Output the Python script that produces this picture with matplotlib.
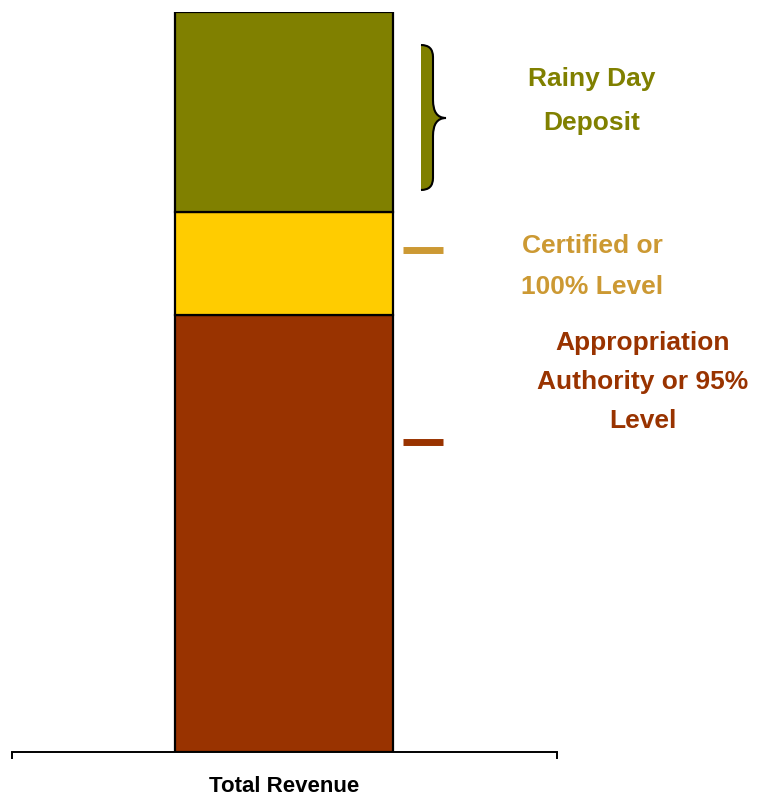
import matplotlib
matplotlib.use("Agg")
import matplotlib.pyplot as plt
from matplotlib.path import Path
from matplotlib.patches import PathPatch
from matplotlib.transforms import blended_transform_factory

plt.rcParams['font.family'] = ['Liberation Sans', 'DejaVu Sans']

# Revenue composition (share of total revenue, %)
category = "Total Revenue"
segments = ["Appropriation Authority or 95% Level", "Certified or 100% Level", "Rainy Day Deposit"]
values = [59, 14, 27]
colors = ["#993300", "#FFCC00", "#808000"]

OLIVE = "#808000"
GOLD = "#CC9933"
BROWN = "#993300"

fig = plt.figure(figsize=(7.66, 7.96), dpi=100)
W, H = 766, 796
ax = fig.add_axes([12 / W, 44 / H, 545 / W, 740 / H])

bottom = 0
for v, c in zip(values, colors):
    ax.bar(0, v, width=0.4, bottom=bottom, color=c, edgecolor="black", linewidth=1.6, zorder=3)
    bottom += v

ax.set_xlim(-0.5, 0.5)
ax.set_ylim(0, sum(values))

for s in ("left", "right", "top"):
    ax.spines[s].set_visible(False)
ax.spines["bottom"].set_linewidth(1.4)
ax.set_yticks([])
ax.set_xticks([0])
ax.set_xticklabels([category], fontsize=16, fontweight="bold")
ax.tick_params(axis="x", which="major", length=0, pad=17)
ax.set_xticks([-0.5, 0.5], minor=True)
ax.tick_params(axis="x", which="minor", length=5, width=1.4, direction="out")

# Blended transform: x in axes fraction, y in data units
trans = blended_transform_factory(ax.transAxes, ax.transData)

def px_x(px):
    return (px - 12) / 545

def px_y(py):
    return (752 - py) / 740 * sum(values)

# Level markers
for py, col in ((250, GOLD), (441.5, BROWN)):
    ax.plot([px_x(403), px_x(443)], [px_y(py), px_y(py)], color=col, lw=5,
            solid_capstyle="butt", transform=trans, clip_on=False)

# Curly brace beside the rainy day segment
x0, xs, xt = px_x(421), px_x(433), px_x(446)
yt, ym, yb = px_y(45), px_y(118), px_y(190)
r = px_y(45) - px_y(57)      # end hook height
rm = px_y(100) - px_y(118)   # middle point height
brace_pts = [
    (x0, yt),
    (xs, yt), (xs, yt - r),
    (xs, ym + rm),
    (xs, ym), (xt, ym),
    (xs, ym), (xs, ym - rm),
    (xs, yb + r),
    (xs, yb), (x0, yb),
]
codes = [Path.MOVETO,
         Path.CURVE3, Path.CURVE3,
         Path.LINETO,
         Path.CURVE3, Path.CURVE3,
         Path.CURVE3, Path.CURVE3,
         Path.LINETO,
         Path.CURVE3, Path.CURVE3]
fill_path = Path(brace_pts + [(x0, yt)], codes + [Path.CLOSEPOLY])
ax.add_patch(PathPatch(fill_path, facecolor=OLIVE, edgecolor="none",
                       transform=trans, clip_on=False))
ax.add_patch(PathPatch(Path(brace_pts, codes), facecolor="none", edgecolor="black",
                       lw=1.5, transform=trans, clip_on=False))

# Segment labels
fig.text(592 / W, 1 - 101 / H, "Rainy Day\nDeposit", color=OLIVE, fontsize=19,
         fontweight="bold", ha="center", va="center", linespacing=2.05)
fig.text(592 / W, 1 - 266.5 / H, "Certified or\n100% Level", color=GOLD, fontsize=19,
         fontweight="bold", ha="center", va="center", linespacing=1.85)
fig.text(643 / W, 1 - 382 / H, "Appropriation\nAuthority or 95%\nLevel", color=BROWN,
         fontsize=19, fontweight="bold", ha="center", va="center", linespacing=1.78)

fig.savefig("out.png", dpi=100)
